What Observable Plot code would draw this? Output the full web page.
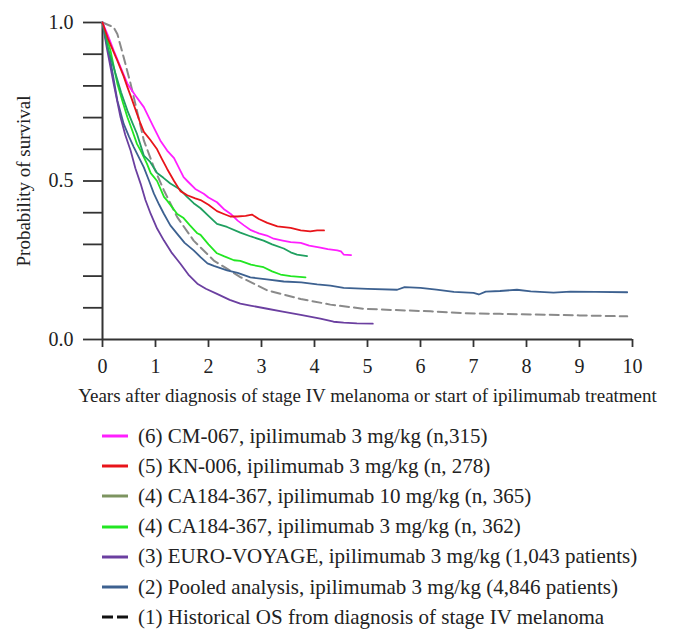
<!DOCTYPE html>
<html>
<head>
<meta charset="utf-8">
<script src="https://cdn.jsdelivr.net/npm/d3@7"></script>
<script src="https://cdn.jsdelivr.net/npm/@observablehq/plot@0.6"></script>
<style>
  html, body { margin: 0; padding: 0; background: #fff; }
  #legend { font-family: "Liberation Serif", "Times New Roman", serif; font-size: 21px; color: #222; padding-top: 9px; }
  .row { display: flex; align-items: center; height: 30.2px; white-space: nowrap; }
  .sw { margin-left: 102px; width: 26px; height: 6px; margin-right: 10px; display: block; }
</style>
</head>
<body>
<div id="chart"></div>
<div id="legend"></div>
<script>
// ---- axis ticks / labels ----
const xTickValues = [0, 1, 2, 3, 4, 5, 6, 7, 8, 9, 10];
const xTickLabels = ["0", "1", "2", "3", "4", "5", "6", "7", "8", "9", "10"];
const yTickValues = [0, 0.1, 0.2, 0.3, 0.4, 0.5, 0.6, 0.7, 0.8, 0.9, 1.0];
const yLabelValues = [0, 0.5, 1.0];
const yLabelTexts = ["0.0", "0.5", "1.0"];
const xTitle = "Years after diagnosis of stage IV melanoma or start of ipilimumab treatment";
const yTitle = "Probability of survival";

// ---- series: [years, survival] ----
const cm067 = [[0,1.0],[0.1,0.96],[0.21,0.912],[0.35,0.855],[0.47,0.807],[0.62,0.77],[0.78,0.733],[0.95,0.675],[1.09,0.628],[1.22,0.596],[1.35,0.572],[1.53,0.512],[1.6,0.50],[1.75,0.475],[1.91,0.46],[2.0,0.448],[2.16,0.433],[2.3,0.41],[2.42,0.396],[2.55,0.375],[2.67,0.36],[2.8,0.345],[2.95,0.335],[3.1,0.328],[3.23,0.318],[3.4,0.312],[3.55,0.307],[3.74,0.305],[3.9,0.296],[4.11,0.29],[4.25,0.285],[4.43,0.281],[4.5,0.278],[4.55,0.268],[4.69,0.266]];
const kn006 = [[0,1.0],[0.1,0.95],[0.28,0.88],[0.4,0.83],[0.47,0.796],[0.55,0.76],[0.65,0.712],[0.72,0.68],[0.78,0.655],[0.9,0.63],[1.03,0.6],[1.12,0.57],[1.22,0.538],[1.35,0.5],[1.47,0.468],[1.6,0.455],[1.75,0.445],[1.85,0.44],[2.0,0.425],[2.16,0.405],[2.29,0.396],[2.41,0.388],[2.54,0.388],[2.7,0.39],[2.82,0.394],[2.95,0.38],[3.11,0.368],[3.3,0.357],[3.55,0.352],[3.74,0.344],[3.92,0.341],[4.05,0.344],[4.18,0.344]];
const ca184_10 = [[0,1.0],[0.1,0.92],[0.21,0.859],[0.35,0.78],[0.47,0.722],[0.56,0.685],[0.65,0.649],[0.78,0.58],[0.9,0.56],[1.03,0.525],[1.15,0.51],[1.28,0.492],[1.45,0.475],[1.6,0.449],[1.72,0.43],[1.85,0.414],[2.0,0.39],[2.16,0.365],[2.35,0.355],[2.6,0.337],[2.8,0.325],[3.04,0.312],[3.2,0.3],[3.42,0.287],[3.55,0.275],[3.67,0.268],[3.86,0.263]];
const ca184_3 = [[0,1.0],[0.15,0.912],[0.28,0.807],[0.38,0.75],[0.47,0.701],[0.56,0.66],[0.65,0.617],[0.72,0.596],[0.84,0.554],[0.91,0.525],[1.03,0.5],[1.16,0.45],[1.22,0.438],[1.41,0.396],[1.53,0.383],[1.65,0.36],[1.79,0.335],[1.85,0.33],[2.0,0.3],[2.16,0.272],[2.3,0.262],[2.48,0.25],[2.6,0.248],[2.8,0.236],[3.04,0.228],[3.2,0.215],[3.36,0.205],[3.55,0.2],[3.83,0.196]];
const euroVoyage = [[0,1.0],[0.05,0.95],[0.09,0.912],[0.21,0.807],[0.34,0.701],[0.43,0.645],[0.53,0.596],[0.62,0.54],[0.72,0.491],[0.81,0.44],[0.91,0.396],[1.03,0.35],[1.16,0.312],[1.3,0.275],[1.47,0.239],[1.62,0.205],[1.79,0.176],[1.95,0.16],[2.16,0.144],[2.4,0.125],[2.6,0.113],[2.79,0.107],[3.11,0.097],[3.4,0.088],[3.74,0.078],[4.11,0.066],[4.36,0.056],[4.55,0.053],[4.8,0.051],[5.1,0.05]];
const pooled = [[0,1.0],[0.07,0.94],[0.15,0.88],[0.28,0.754],[0.4,0.68],[0.5,0.64],[0.59,0.607],[0.78,0.543],[0.88,0.5],[0.97,0.46],[1.07,0.425],[1.16,0.396],[1.28,0.36],[1.41,0.333],[1.55,0.305],[1.72,0.281],[1.85,0.26],[1.98,0.24],[2.1,0.232],[2.35,0.218],[2.55,0.21],[2.79,0.196],[3.1,0.19],[3.42,0.183],[3.75,0.18],[4.05,0.174],[4.3,0.17],[4.55,0.163],[5.0,0.16],[5.56,0.157],[5.7,0.165],[6.0,0.163],[6.3,0.157],[6.63,0.15],[7.0,0.147],[7.1,0.142],[7.23,0.151],[7.5,0.153],[7.82,0.157],[8.08,0.152],[8.51,0.148],[8.83,0.151],[9.3,0.15],[9.9,0.149]];
const historical = [[0,1.0],[0.21,0.985],[0.28,0.964],[0.4,0.89],[0.53,0.807],[0.65,0.722],[0.78,0.628],[0.97,0.543],[1.16,0.47],[1.41,0.386],[1.72,0.312],[2.1,0.249],[2.6,0.197],[3.11,0.155],[3.74,0.128],[4.3,0.11],[4.93,0.097],[5.5,0.093],[6.19,0.089],[6.82,0.083],[7.5,0.081],[8.08,0.079],[9.0,0.076],[9.9,0.073]];

// ---- legend ----
const legendLabels = [
  "(6) CM-067, ipilimumab 3 mg/kg (n,315)",
  "(5) KN-006, ipilimumab 3 mg/kg (n, 278)",
  "(4) CA184-367, ipilimumab 10 mg/kg (n, 365)",
  "(4) CA184-367, ipilimumab 3 mg/kg (n, 362)",
  "(3) EURO-VOYAGE, ipilimumab 3 mg/kg (1,043 patients)",
  "(2) Pooled analysis, ipilimumab 3 mg/kg (4,846 patients)",
  "(1) Historical OS from diagnosis of stage IV melanoma"
];
const lineColors = ["#ff1fff", "#e8141a", "#20a060", "#22e622", "#6b3fa0", "#3d6190", "#8a8a8a"];
const swatchColors = ["#ff1fff", "#e8141a", "#7d9460", "#22e622", "#6b3fa0", "#3d6190", "#111111"];
const seriesList = [cm067, kn006, ca184_10, ca184_3, euroVoyage, pooled, historical];

const toRows = (arr) => arr.map(([t, s]) => ({t, s}));

const lineMarks = [];
lineMarks.push(Plot.line(toRows(historical), {x: "t", y: "s", stroke: lineColors[6], strokeWidth: 2, strokeDasharray: "9,5"}));
[5, 4, 3, 2, 0, 1].forEach(i => {
  lineMarks.push(Plot.line(toRows(seriesList[i]), {x: "t", y: "s", stroke: lineColors[i], strokeWidth: 1.8}));
});

const yLabelRows = yLabelValues.map((v, i) => ({v, label: yLabelTexts[i]}));

const chart = Plot.plot({
  width: 674,
  height: 412,
  marginLeft: 102,
  marginRight: 42,
  marginTop: 22,
  marginBottom: 73,
  x: {domain: [0, 10]},
  y: {domain: [0, 1]},
  style: {fontFamily: '"Liberation Serif", "Times New Roman", serif', fontSize: "20px", color: "#222", background: "#fff"},
  marks: [
    Plot.axisY({ticks: yTickValues, tickSize: 19, tickFormat: () => "", label: null, stroke: "#333", strokeWidth: 1.8}),
    Plot.text(yLabelRows, {y: "v", text: "label", frameAnchor: "left", textAnchor: "end", dx: -29, fontSize: 20, fill: "#222"}),
    Plot.axisX({ticks: xTickValues, tickSize: 8, tickPadding: 11, tickFormat: d => xTickLabels[xTickValues.indexOf(d)], label: null, stroke: "#333", strokeWidth: 1.8, fontSize: 20}),
    Plot.ruleX([0], {stroke: "#333", strokeWidth: 2}),
    Plot.ruleY([0], {stroke: "#333", strokeWidth: 2}),
    ...lineMarks,
    Plot.text([xTitle], {text: d => d, frameAnchor: "bottom", textAnchor: "middle", lineAnchor: "bottom", dy: 62, fontSize: 19, fill: "#222"}),
    Plot.text([yTitle], {text: d => d, frameAnchor: "left", textAnchor: "middle", rotate: -90, dx: -79, fontSize: 19, fill: "#222"})
  ]
});
document.getElementById("chart").appendChild(chart);

const legend = document.getElementById("legend");
legendLabels.forEach((lab, i) => {
  const row = document.createElement("div");
  row.className = "row";
  const dash = i === 6 ? ' stroke-dasharray="11,4"' : '';
  row.innerHTML = `<svg class="sw" width="26" height="6"><line x1="0" x2="26" y1="3" y2="3" stroke="${swatchColors[i]}" stroke-width="3"${dash}/></svg><span>${lab}</span>`;
  legend.appendChild(row);
});
</script>
</body>
</html>
